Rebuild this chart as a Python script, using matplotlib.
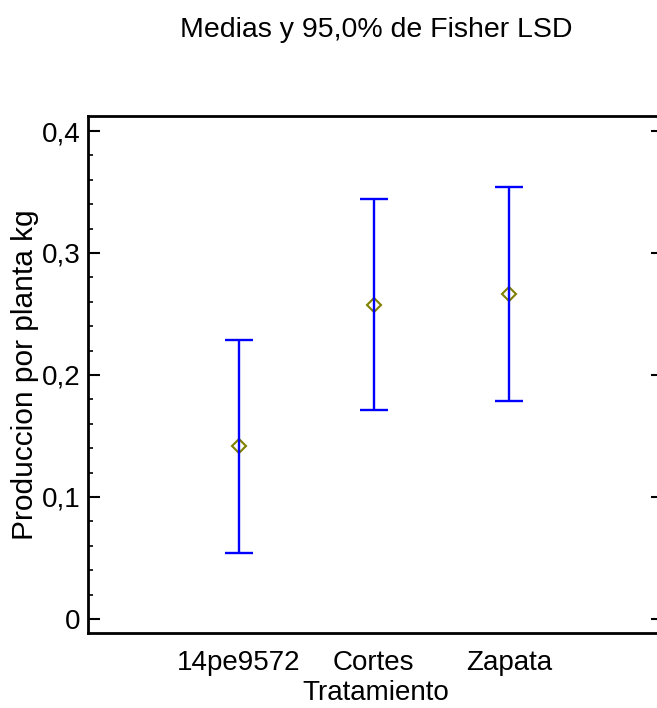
import matplotlib.pyplot as plt
from matplotlib.ticker import MultipleLocator, FuncFormatter

# datos: medias e intervalos LSD 95%
tratamientos = ["14pe9572", "Cortes", "Zapata"]
medias = [0.142, 0.257, 0.266]
limite_inf = [0.054, 0.171, 0.179]
limite_sup = [0.229, 0.344, 0.354]

plt.rcParams["font.family"] = ["Liberation Sans", "DejaVu Sans"]

fig = plt.figure(figsize=(6.57, 7.08), dpi=100)
ax = fig.add_axes([88 / 657, 75 / 708, 575 / 657, 517 / 708])

x = list(range(1, len(tratamientos) + 1))
err_low = [m - lo for m, lo in zip(medias, limite_inf)]
err_high = [hi - m for m, hi in zip(medias, limite_sup)]

ax.plot(x, medias, linestyle="none", marker="D", markersize=7,
        markerfacecolor="none", markeredgecolor="#808000",
        markeredgewidth=1.5, zorder=2)
ax.errorbar(x, medias, yerr=[err_low, err_high], fmt="none",
            ecolor="#0000ff", elinewidth=1.7, capsize=10, capthick=1.7,
            zorder=3)

ax.set_xlim(-0.115, 4.14)
ax.set_ylim(-0.0115, 0.4123)
ax.set_xticks(x)
ax.set_xticklabels(tratamientos)
ax.yaxis.set_major_locator(MultipleLocator(0.1))
ax.yaxis.set_minor_locator(MultipleLocator(0.02))
ax.yaxis.set_major_formatter(
    FuncFormatter(lambda v, p: "0" if abs(v) < 1e-9 else f"{v:.1f}".replace(".", ",")))

for s in ax.spines.values():
    s.set_linewidth(2)

ax.tick_params(axis="y", which="both", direction="in", left=True, right=True,
               labelsize=20)
ax.tick_params(axis="y", which="major", length=8.5, width=1.5, pad=5.5)
ax.tick_params(axis="y", which="minor", length=3.6, width=1.2)
ax.tick_params(axis="x", which="both", length=0, labelsize=20, pad=12)

ax.set_xlabel("Tratamiento", fontsize=20, labelpad=3)
ax.set_ylabel("Produccion por planta kg", fontsize=21.5, labelpad=2)
fig.text(376 / 657, 1 - 37 / 708, "Medias y 95,0% de Fisher LSD",
         ha="center", va="baseline", fontsize=20.5)

fig.savefig("out.png", dpi=100)
